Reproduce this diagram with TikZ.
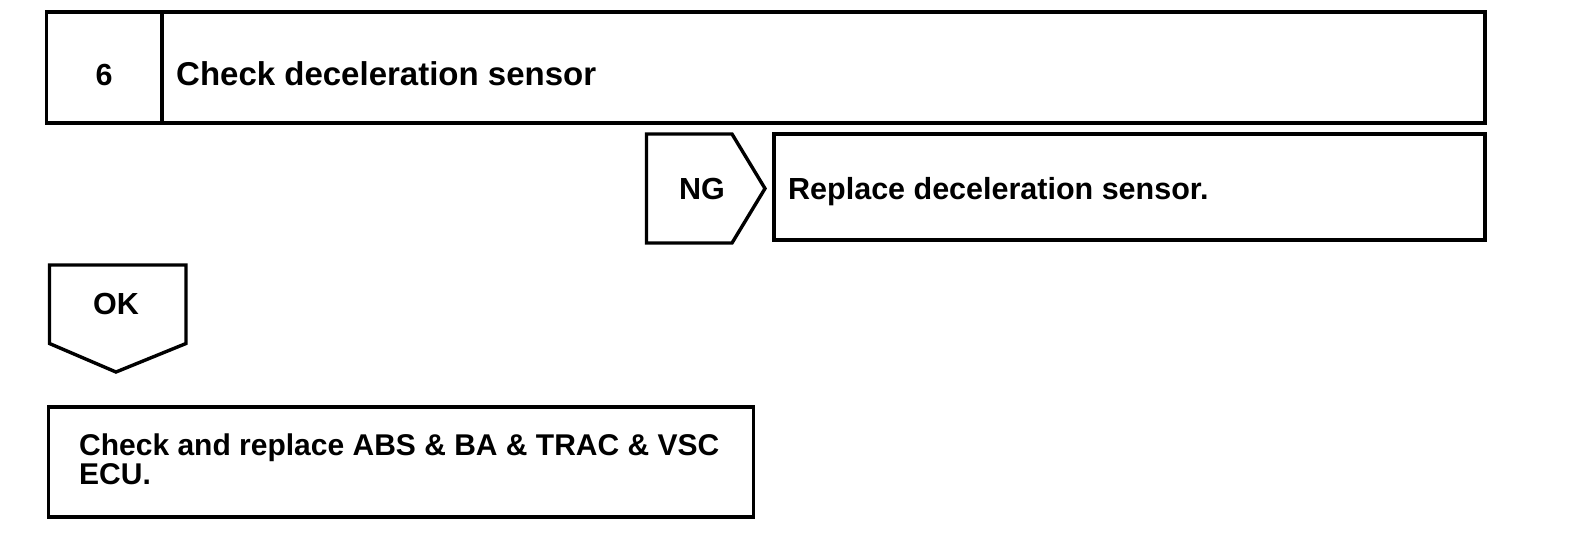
\documentclass[tikz,border=0pt]{standalone}
\usepackage{fontspec}
\setmainfont{Liberation Sans}
\tikzset{
  frame/.style={draw=black, line width=3.4pt, inner sep=0pt, outer sep=0pt, fill=white},
  outline/.style={draw=black, line width=3.4pt, line join=miter},
  lbl/.style={font=\fontsize{30.5}{25}\selectfont\bfseries, inner sep=0pt, anchor=base west},
  biglbl/.style={lbl, font=\fontsize{33}{25}\selectfont\bfseries},
}
\begin{document}
\begin{tikzpicture}[x=1pt,y=-1pt]
\useasboundingbox (0,0) rectangle (1584,558);
% top box
\node[frame, minimum width=115.5pt, minimum height=111pt, anchor=north west] (num) at (46.5,12) {};
\node[frame, minimum width=1323pt, minimum height=111pt, anchor=north west] (title) at (162,12) {};
\node[lbl, anchor=base] (numtxt) at (104,85) {6};
\node[biglbl] (titletxt) at (176,85) {Check deceleration sensor};
% NG pentagon
\coordinate (ng1) at (646.5,134);
\coordinate (ng2) at (732,134);
\coordinate (ngtip) at (765,188.5);
\coordinate (ng3) at (732,243);
\coordinate (ng4) at (646.5,243);
\draw[outline] (ng1) -- (ng2) -- (ngtip) -- (ng3) -- (ng4) -- cycle;
\node[lbl, anchor=base] (ngtxt) at (702,199) {NG};
% replace box
\node[frame, minimum width=711pt, minimum height=106pt, anchor=north west] (repl) at (774,134) {};
\node[lbl] (repltxt) at (788,199) {Replace deceleration sensor.};
% OK shape
\coordinate (ok1) at (49.5,265);
\coordinate (ok2) at (186,265);
\coordinate (ok3) at (186,343.5);
\coordinate (oktip) at (116,372);
\coordinate (ok4) at (49.5,343.5);
\draw[outline] (ok1) -- (ok2) -- (ok3) -- (oktip) -- (ok4) -- cycle;
\node[lbl, anchor=base] (oktxt) at (116,314) {OK};
% bottom box
\node[frame, minimum width=705pt, minimum height=110pt, anchor=north west] (ecu) at (48.5,407) {};
\node[lbl, anchor=north west, align=left, font=\fontsize{30}{25}\selectfont\bfseries] (ecutxt) at (79,434) {Check and replace ABS \& BA \& TRAC \& VSC\\ECU.};
\end{tikzpicture}
\end{document}
